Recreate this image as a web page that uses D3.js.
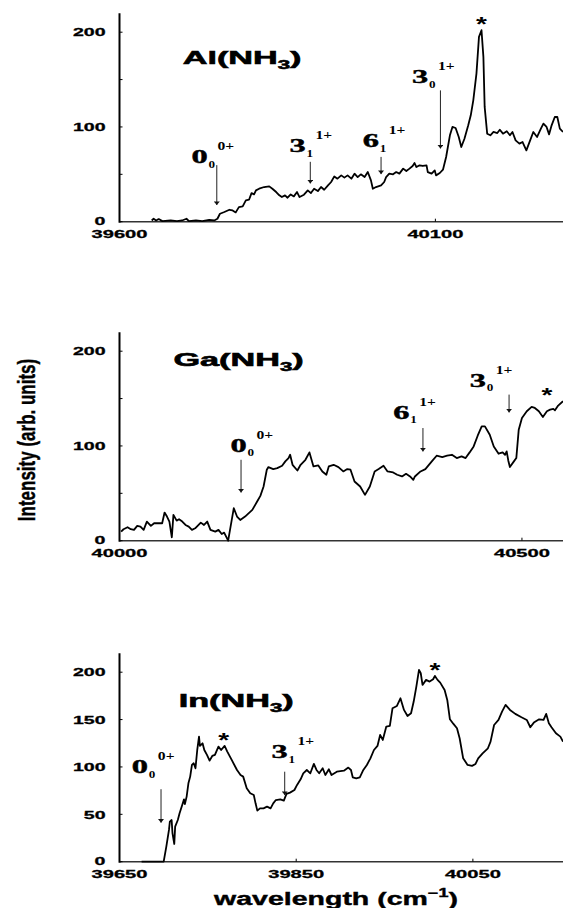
<!DOCTYPE html>
<html>
<head>
<meta charset="utf-8">
<script src="https://cdn.jsdelivr.net/npm/d3@7"></script>
<style>
  html, body { margin: 0; padding: 0; background: #fff; }
</style>
</head>
<body>
<div id="chart"></div>
<script>
// REMPI spectra of Al(NH3), Ga(NH3), In(NH3)
// each point: [wavenumber cm-1, intensity arb. units]

const alSpectrum = [
  [39651,1.3],[39654,3.1],[39658,1.3],[39662,2.8],[39668,0.6],[39681,1.3],[39691,0.6],[39699,1.3],
  [39706,3.1],[39710,0.6],[39721,1.3],[39731,0.6],[39742,2],[39750,1.3],[39755,3.1],[39759,8.4],
  [39766,10.2],[39774,12.6],[39779,11.9],[39784,9.8],[39789,15.4],[39795,16.1],[39800,22.5],[39805,23.2],
  [39809,30.2],[39813,28.8],[39816,33.1],[39821,34.8],[39829,36.6],[39837,37.3],[39842,34.8],[39848,31.3],
  [39853,27.8],[39857,26],[39862,27.8],[39866,25.3],[39871,28.8],[39876,26.7],[39881,31.3],[39885,26],
  [39892,28.5],[39898,33.1],[39903,30.2],[39908,34.8],[39914,32.3],[39919,36.6],[39924,33.7],[39930,38.3],
  [39935,41.9],[39940,47.8],[39945,45.4],[39951,48.9],[39956,46.5],[39961,48.9],[39967,45.4],[39972,50.7],
  [39977,47.1],[39982,50],[39988,47.1],[39993,52.4],[39998,43.6],[40001,34.8],[40006,36.6],[40014,38.3],
  [40019,41.9],[40022,47.1],[40027,50.7],[40033,50],[40038,52.4],[40043,50.7],[40049,56],[40054,53.5],
  [40059,56],[40064,58.8],[40067,61.9],[40070,57.7],[40075,59.5],[40080,58.8],[40086,59.5],[40088,52.4],
  [40094,50.7],[40099,54.2],[40101,48.9],[40107,51.4],[40112,54.9],[40117,68.3],[40123,91.2],[40127,100],
  [40132,98.9],[40137,89.4],[40141,78.8],[40146,87.6],[40152,101.7],[40156,112.3],[40160,128.1],[40165,156.3],
  [40169,195.1],[40173,202.1],[40176,174],[40178,121.1],[40182,92.9],[40187,91.2],[40192,94.7],[40198,93.6],
  [40202,97.1],[40207,92.9],[40213,95.4],[40218,91.2],[40222,94.7],[40227,85.9],[40233,82.4],[40238,84.1],
  [40244,75.3],[40250,85.9],[40255,94.7],[40261,89.4],[40267,98.2],[40271,103.5],[40276,100],[40280,92.2],
  [40284,101.7],[40289,110.5],[40293,110.5],[40297,98.2],[40302,94.7]
];

const gaSpectrum = [
  [40002,9.6],[40005,12.1],[40010,14.2],[40014,12.1],[40018,11.4],[40022,15.6],[40026,14.9],[40030,11.4],
  [40034,20.2],[40039,15.6],[40043,18.4],[40053,18.4],[40056,29.7],[40059,25.5],[40062,20.2],[40065,3.6],
  [40067,27.2],[40071,21.2],[40074,22.6],[40078,20.2],[40082,16.6],[40086,14.9],[40090,11.4],[40094,13.1],
  [40101,19.1],[40105,16.6],[40109,20.2],[40113,11.4],[40119,9.6],[40123,11.4],[40127,7.1],[40130,8.5],
  [40135,0],[40138,14.9],[40142,34.3],[40146,25.5],[40150,21.9],[40156,25.5],[40165,32.5],[40171,41.3],
  [40175,47.3],[40179,57.2],[40183,74.9],[40185,77.7],[40191,75.6],[40196,76.6],[40202,79.1],[40206,83.7],
  [40210,87.2],[40212,90.7],[40215,80.1],[40221,74.1],[40225,80.1],[40231,85.4],[40236,93.2],[40241,78.4],
  [40247,79.4],[40252,73.1],[40257,69.6],[40260,78.4],[40266,80.1],[40272,77.7],[40278,73.1],[40283,75.6],
  [40287,74.9],[40292,62.5],[40299,57.2],[40305,48.4],[40311,57.2],[40317,73.1],[40322,75.6],[40328,79.1],
  [40333,73.1],[40340,72],[40345,69.6],[40351,67.8],[40356,70.6],[40361,67.8],[40365,64.3],[40367,67.8],
  [40374,73.1],[40380,75.6],[40388,83.7],[40394,89.7],[40401,88.3],[40407,89.7],[40413,90.7],[40419,87.2],
  [40425,89],[40430,87.2],[40435,93.2],[40440,99.5],[40445,110.8],[40450,120.7],[40454,120.7],[40460,111.9],
  [40465,99.5],[40471,91.8],[40476,93.2],[40479,90.7],[40481,94.3],[40483,84.7],[40485,77.7],[40490,83.7],
  [40493,87.2],[40496,117.2],[40500,129.5],[40506,136.6],[40512,141.2],[40516,140.1],[40521,136.6],[40526,130.6],
  [40531,136.6],[40535,138.3],[40539,139.1],[40541,137.6],[40545,142.6],[40551,147.2]
];

const inSpectrum = [
  [39675,0],[39700,0],[39703,15.9],[39706,33.5],[39707,42.3],[39709,44],[39710,29.9],[39712,18.7],
  [39713,37],[39716,44],[39718,51.1],[39721,59.9],[39723,65.8],[39724,60.9],[39726,68.7],[39728,82.7],
  [39730,89.8],[39732,102.1],[39734,103.9],[39736,98.6],[39738,117.9],[39740,132],[39741,122.2],[39744,125],
  [39746,117.9],[39749,112.7],[39752,106.7],[39755,111.6],[39758,112.7],[39762,121.5],[39765,117.9],[39769,122.2],
  [39772,116.2],[39777,107.4],[39783,96.8],[39787,91.5],[39790,89.8],[39794,77.5],[39798,72.2],[39802,70.4],
  [39804,61.6],[39806,53.9],[39809,56.3],[39813,56.3],[39817,58.1],[39821,56.3],[39824,61.6],[39827,65.1],
  [39832,65.8],[39836,64.4],[39839,71.5],[39843,72.9],[39848,75.7],[39851,81],[39855,87],[39858,93.3],
  [39862,96.8],[39866,93.3],[39870,103.2],[39873,96.8],[39876,93.3],[39880,98.6],[39883,91.5],[39887,97.5],
  [39890,91.5],[39896,95],[39904,96.1],[39909,99.3],[39912,96.8],[39914,89.1],[39918,88],[39922,89.1],
  [39926,96.8],[39930,102.1],[39934,109.1],[39938,117.9],[39942,122.2],[39945,133.8],[39948,128.5],[39952,142.6],
  [39956,143.3],[39959,161.9],[39964,164.4],[39968,172.5],[39972,160.2],[39976,153.8],[39980,156.7],[39983,169],
  [39986,184.8],[39989,202.4],[39991,198.9],[39993,186.6],[39997,191.9],[40001,190.1],[40005,192.6],[40007,196.1],
  [40010,191.9],[40013,189],[40018,181.3],[40021,170.7],[40024,150.3],[40028,145.4],[40032,140.8],[40035,130.3],
  [40039,109.1],[40044,102.1],[40049,101.1],[40053,103.2],[40056,109.1],[40061,114.4],[40067,119.7],[40070,126.7],
  [40074,144.3],[40079,149.6],[40083,158.4],[40087,165.5],[40092,160.2],[40098,156],[40105,152.4],[40111,149.6],
  [40115,141.9],[40119,146.8],[40125,150.3],[40130,149.6],[40133,156],[40136,146.1],[40139,141.9],[40144,135.5],
  [40149,132],[40152,126.7]
];

// axis extents and ticks
const alXDomain = [39600, 40302];
const gaXDomain = [40000, 40551];
const inXDomain = [39650, 40152];
const alXTicks = [39600, 40100];
const gaXTicks = [40000, 40500];
const inXTicks = [39650, 39850, 40050];
const alYTicks = [0, 100, 200];
const gaYTicks = [0, 100, 200];
const inYTicks = [0, 50, 100, 150, 200];
const alYMinor = [50, 150];
const gaYMinor = [50, 150];
const inYMinor = [];

// band assignments: arrow at w from 'top' down to 'tip'; label anchored at (lw, lv)
const alNotes = [
  { main: '0', sub: '0', sup: '0+', w: 39754, top: 59.7, tip: 17.6, lw: 39714, lv: 61.8 },
  { main: '3', sub: '1', sup: '1+', w: 39902, top: 63.2, tip: 40.4, lw: 39869, lv: 73.4 },
  { main: '6', sub: '1', sup: '1+', w: 40014, top: 68.4, tip: 50.2, lw: 39985, lv: 78.6 },
  { main: '3', sub: '0', sup: '1+', w: 40108, top: 138.6, tip: 77.3, lw: 40063, lv: 146 }
];
const gaNotes = [
  { main: '0', sub: '0', sup: '0+', w: 40151, top: 85.4, tip: 50.8, lw: 40138, lv: 93.9 },
  { main: '6', sub: '1', sup: '1+', w: 40377, top: 118.9, tip: 94.2, lw: 40340, lv: 128.8 },
  { main: '3', sub: '0', sup: '1+', w: 40484, top: 154.2, tip: 135.4, lw: 40435, lv: 162.6 }
];
const inNotes = [
  { main: '0', sub: '0', sup: '0+', w: 39697, top: 76.5, tip: 41.2, lw: 39664, lv: 93.3 },
  { main: '3', sub: '1', sup: '1+', w: 39837, top: 95, tip: 70.4, lw: 39822, lv: 109.2 }
];

// asterisks [w, v at bottom of glyph]
const alStars = [[40173, 209]];
const gaStars = [[40531, 154]];
const inStars = [[39768, 128.5], [40007, 202.4]];

// molecule labels [w, v] of left baseline
const alTitle = { text: 'Al(NH', w: 39700, v: 166.5 };
const gaTitle = { text: 'Ga(NH', w: 40067, v: 184 };
const inTitle = { text: 'In(NH', w: 39717, v: 163.7 };

const W = 563, H = 908;
const plotLeft = 119.5, plotRight = 563;
const yTop = 220; // top of the intensity axis line

const svg = d3.select('#chart').append('svg')
  .attr('width', W).attr('height', H)
  .attr('viewBox', `0 0 ${W} ${H}`);

svg.append('defs').append('marker')
  .attr('id', 'tip')
  .attr('viewBox', '0 0 6 10')
  .attr('refX', 6).attr('refY', 5)
  .attr('markerWidth', 4).attr('markerHeight', 6)
  .attr('markerUnits', 'userSpaceOnUse')
  .attr('orient', 'auto')
  .append('path').attr('d', 'M0,0 L6,5 L0,10 Z').attr('fill', '#111');

// horizontally stretched text (the scanned figure is very wide-set)
function wideText(parent, x, y, sx) {
  return parent.append('text')
    .attr('transform', `translate(${x},${y}) scale(${sx},1)`);
}

const sans = "'Liberation Sans', Arial, sans-serif";
const serif = "'Liberation Serif', 'Times New Roman', serif";

function drawPanel(p) {
  const g = svg.append('g');
  const x = d3.scaleLinear().domain(p.xDomain).range([plotLeft, plotRight]);
  const y = d3.scaleLinear().domain([0, 200]).range([p.base, p.base - 189.5]);

  // axes
  g.append('line')
    .attr('x1', plotLeft).attr('x2', plotRight)
    .attr('y1', y(0)).attr('y2', y(0))
    .attr('stroke', '#333').attr('stroke-width', 1.4);
  g.append('line')
    .attr('x1', plotLeft).attr('x2', plotLeft)
    .attr('y1', y(0) + 1).attr('y2', y(yTop))
    .attr('stroke', '#000').attr('stroke-width', 2);

  g.selectAll('.ytick').data(p.yTicks.concat(p.yMinor)).join('line')
    .attr('x1', plotLeft).attr('x2', plotLeft + 3)
    .attr('y1', d => y(d)).attr('y2', d => y(d))
    .attr('stroke', '#000').attr('stroke-width', 1);

  p.yTicks.forEach(t => {
    wideText(g, plotLeft - 14, y(t) + (t === 0 ? 2.8 : 4.2), 1.7)
      .attr('text-anchor', 'end')
      .attr('font-family', sans).attr('font-weight', 'bold').attr('font-size', 11.5)
      .attr('stroke', '#000').attr('stroke-width', 0.3)
      .text(t);
  });

  g.selectAll('.xtick').data(p.xTicks).join('line')
    .attr('x1', d => x(d)).attr('x2', d => x(d))
    .attr('y1', y(0)).attr('y2', y(0) - 3)
    .attr('stroke', '#000').attr('stroke-width', 1);

  p.xTicks.forEach(t => {
    wideText(g, x(t), y(0) + 16, 1.75)
      .attr('text-anchor', 'middle')
      .attr('font-family', sans).attr('font-weight', 'bold').attr('font-size', 11.5)
      .attr('stroke', '#000').attr('stroke-width', 0.3)
      .text(t);
  });

  // spectrum
  g.append('path')
    .datum(p.spectrum)
    .attr('d', d3.line().x(d => x(d[0])).y(d => y(d[1])))
    .attr('fill', 'none')
    .attr('stroke', '#000')
    .attr('stroke-width', 1.8)
    .attr('stroke-linejoin', 'round');

  // molecule label
  const tt = wideText(g, x(p.title.w), y(p.title.v), 1.85)
    .attr('font-family', sans).attr('font-weight', 'bold').attr('font-size', 18.5)
    .attr('stroke', '#000').attr('stroke-width', 0.6);
  tt.append('tspan').text(p.title.text);
  tt.append('tspan').attr('font-size', 12).attr('dy', 5).text('3');
  tt.append('tspan').attr('dy', -5).text(')');

  // band assignments
  p.notes.forEach(n => {
    g.append('line')
      .attr('x1', x(n.w)).attr('x2', x(n.w))
      .attr('y1', y(n.top)).attr('y2', y(n.tip))
      .attr('stroke', '#222').attr('stroke-width', 1)
      .attr('marker-end', 'url(#tip)');
    const ax = x(n.lw), ay = y(n.lv);
    wideText(g, ax, ay, 1.8)
      .attr('font-family', serif).attr('font-weight', 'bold').attr('font-size', 18)
      .attr('stroke', '#000').attr('stroke-width', 0.4)
      .text(n.main);
    wideText(g, ax + 17, ay + 4.5, 1.25)
      .attr('font-family', serif).attr('font-weight', 'bold').attr('font-size', 10.5)
      .text(n.sub);
    wideText(g, ax + 26, ay - 13, 1.3)
      .attr('font-family', serif).attr('font-weight', 'bold').attr('font-size', 12)
      .text(n.sup);
  });

  p.stars.forEach(s => {
    wideText(g, x(s[0]), y(s[1]) + 7, 1.4)
      .attr('text-anchor', 'middle')
      .attr('font-family', sans).attr('font-weight', 'bold').attr('font-size', 20)
      .text('*');
  });
}

[
  { spectrum: alSpectrum, xDomain: alXDomain, xTicks: alXTicks, yTicks: alYTicks, yMinor: alYMinor,
    notes: alNotes, stars: alStars, title: alTitle, base: 221.7 },
  { spectrum: gaSpectrum, xDomain: gaXDomain, xTicks: gaXTicks, yTicks: gaYTicks, yMinor: gaYMinor,
    notes: gaNotes, stars: gaStars, title: gaTitle, base: 540.7 },
  { spectrum: inSpectrum, xDomain: inXDomain, xTicks: inXTicks, yTicks: inYTicks, yMinor: inYMinor,
    notes: inNotes, stars: inStars, title: inTitle, base: 861.7 }
].forEach(drawPanel);

// shared axis titles
svg.append('text')
  .attr('transform', 'translate(35,440) scale(1.4,1) rotate(-90)')
  .attr('text-anchor', 'middle')
  .attr('font-family', sans).attr('font-weight', 'bold').attr('font-size', 17)
  .attr('stroke', '#000').attr('stroke-width', 0.3)
  .text('Intensity (arb. units)');

const xl = svg.append('text')
  .attr('transform', 'translate(336,905) scale(1.5,1)')
  .attr('text-anchor', 'middle')
  .attr('font-family', sans).attr('font-weight', 'bold').attr('font-size', 19)
  .attr('stroke', '#000').attr('stroke-width', 0.4);
xl.append('tspan').text('wavelength (cm');
xl.append('tspan').attr('font-size', 12).attr('dy', -8).text('\u22121');
xl.append('tspan').attr('dy', 8).text(')');
</script>
</body>
</html>
